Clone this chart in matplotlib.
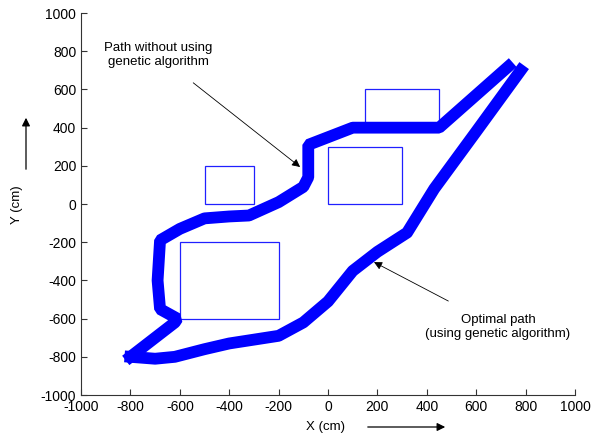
import matplotlib
matplotlib.use("Agg")
import matplotlib.pyplot as plt
from matplotlib.patches import Rectangle, FancyArrowPatch

plt.rcParams['font.family'] = ['Liberation Sans', 'DejaVu Sans']
plt.rcParams['axes.unicode_minus'] = False

# obstacles (lower-left corner, width, height)
obs_x = [-500, -600, 0, 150]
obs_y = [0, -600, 0, 400]
obs_w = [200, 400, 300, 300]
obs_h = [200, 400, 300, 200]

# path without genetic algorithm
plain_x = [-800, -620, -610, -680, -690, -680, -600, -500, -400, -320, -200, -100, -80, -80, 0, 100, 450, 730]
plain_y = [-800, -620, -600, -550, -400, -190, -130, -75, -65, -60, 10, 90, 140, 310, 350, 400, 400, 720]

# optimal path (genetic algorithm)
ga_x = [-800, -700, -620, -500, -400, -300, -200, -100, 0, 100, 200, 320, 430, 600, 780]
ga_y = [-800, -810, -800, -760, -730, -710, -690, -620, -510, -350, -250, -150, 80, 380, 700]

fig = plt.figure(figsize=(6.01, 4.36), dpi=100)
ax = fig.add_axes([0.1348, 0.094, 0.822, 0.876])

for x, y, w, h in zip(obs_x, obs_y, obs_w, obs_h):
    ax.add_patch(Rectangle((x, y), w, h, fill=False, edgecolor='#2020ff', lw=0.9))

ax.plot(plain_x, plain_y, color='#0000ff', lw=8.5, solid_joinstyle='bevel', solid_capstyle='projecting')
ax.plot(ga_x, ga_y, color='#0000ff', lw=8.5, solid_joinstyle='round', solid_capstyle='projecting')

ax.annotate('Path without using\ngenetic algorithm', xy=(-113, 194), xytext=(-688, 780),
            ha='center', va='center', fontsize=9.5,
            arrowprops=dict(arrowstyle='-|>', color='black', lw=0.6, shrinkA=14, shrinkB=0,
                            mutation_scale=12))
ax.annotate('Optimal path\n(using genetic algorithm)', xy=(186, -304), xytext=(688, -644),
            ha='center', va='center', fontsize=9.5,
            arrowprops=dict(arrowstyle='-|>', color='black', lw=0.6, shrinkA=16, shrinkB=0,
                            mutation_scale=12))

ax.set_xlim(-1000, 1000)
ax.set_ylim(-1000, 1000)
ax.set_xticks(range(-1000, 1001, 200))
ax.set_yticks(range(-1000, 1001, 200))
ax.tick_params(direction='in', length=4, labelsize=10, colors='#333333', labelcolor='black')
for s in ['top', 'right']:
    ax.spines[s].set_visible(False)
for s in ['left', 'bottom']:
    ax.spines[s].set_color('#333333')
    ax.spines[s].set_linewidth(0.8)

fig.text(325 / 601, 1 - 427 / 436, 'X (cm)', ha='center', va='center', fontsize=9.5)
fig.text(17 / 601, 1 - 205 / 436, 'Y (cm)', ha='center', va='center', fontsize=9.5, rotation=90)
fig.add_artist(FancyArrowPatch((365 / 601, 1 - 427 / 436), (448 / 601, 1 - 427 / 436),
                               transform=fig.transFigure, arrowstyle='-|>',
                               mutation_scale=12, lw=0.9, color='black'))
fig.add_artist(FancyArrowPatch((26 / 601, 1 - 172 / 436), (26 / 601, 1 - 115 / 436),
                               transform=fig.transFigure, arrowstyle='-|>',
                               mutation_scale=12, lw=0.9, color='black'))

fig.savefig('out.png', dpi=100)
